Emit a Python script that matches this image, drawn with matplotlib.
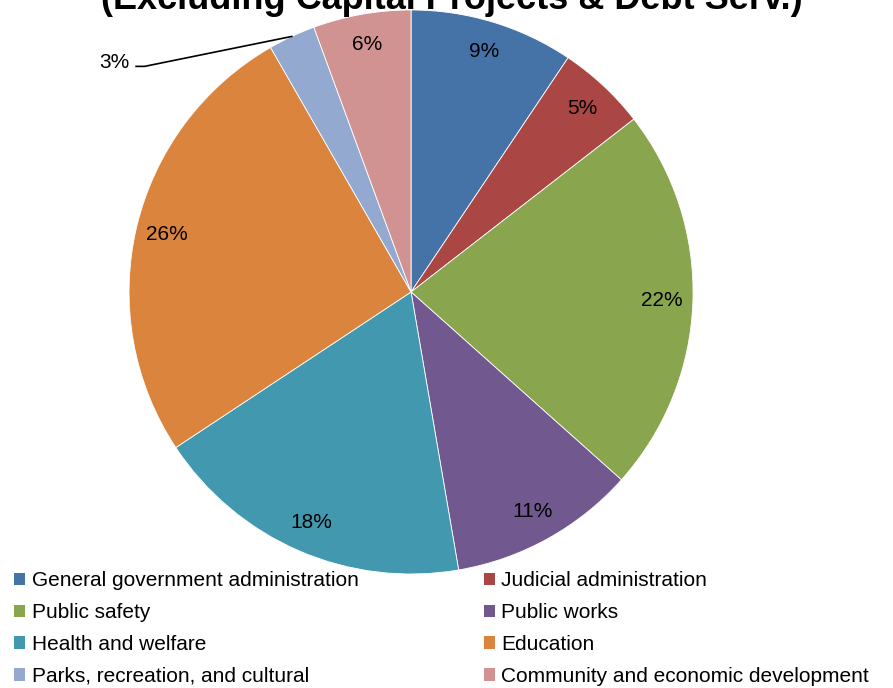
import matplotlib
matplotlib.use('Agg')
import matplotlib.pyplot as plt
from matplotlib.patches import Patch
import numpy as np

plt.rcParams['font.family'] = ['Liberation Sans', 'DejaVu Sans']

# spending shares (percent)
categories = ['General government administration', 'Judicial administration',
              'Public safety', 'Public works',
              'Health and welfare', 'Education',
              'Parks, recreation, and cultural', 'Community and economic development']
shares = [9.4, 5.1, 22.1, 10.7, 18.4, 26.0, 2.7, 5.6]
colors = ['#4572A7', '#AA4643', '#89A54E', '#71588F',
          '#4198AF', '#DB843D', '#93A9CF', '#D19392']
title = '(Excluding Capital Projects & Debt Serv.)'

fig = plt.figure(figsize=(8.93, 6.88), dpi=100)

# pie axes placed so the circle sits where it is in the original
ax = fig.add_axes([0.1445, 0.1657, 0.6316, 0.8198])
wedges, _ = ax.pie(shares, colors=colors, startangle=90, counterclock=False,
                   radius=1.0, wedgeprops=dict(edgecolor='white', linewidth=0.6))
ax.set_xlim(-1, 1)
ax.set_ylim(-1, 1)
ax.set_aspect('equal')
ax.axis('off')

for w, v in zip(wedges, shares):
    mid = np.deg2rad((w.theta1 + w.theta2) / 2)
    lab = f'{round(v)}%'
    if v < 4:
        # small slice: label outside with a leader line
        ex, ey = np.cos(mid), np.sin(mid)
        ax.plot([-0.975, -0.945, ex], [0.80, 0.80, ey], color='black', lw=1.2,
                clip_on=False)
        ax.text(-1.0, 0.812, lab, ha='right', va='center', fontsize=15)
    else:
        ax.text(0.89 * np.cos(mid), 0.89 * np.sin(mid), lab,
                ha='center', va='center', fontsize=15)

# title line is partly cut off at the top edge, as in the original
fig.text(452 / 893, 1 - 9 / 688, title, ha='center', va='baseline',
         fontsize=26, fontweight='bold')

# legend reads row by row: matplotlib fills columns first, so reorder
order = [0, 2, 4, 6, 1, 3, 5, 7]
handles = [Patch(facecolor=colors[i], edgecolor='none') for i in order]
labels = [categories[i] for i in order]
fig.legend(handles, labels, ncol=2, loc='lower left',
           bbox_to_anchor=(14 / 893, 2 / 688), frameon=False, fontsize=15,
           borderpad=0, borderaxespad=0,
           handlelength=0.55, handleheight=0.55, handletextpad=0.3,
           labelspacing=0.62, columnspacing=6.0)

fig.savefig('out.png', dpi=100)
